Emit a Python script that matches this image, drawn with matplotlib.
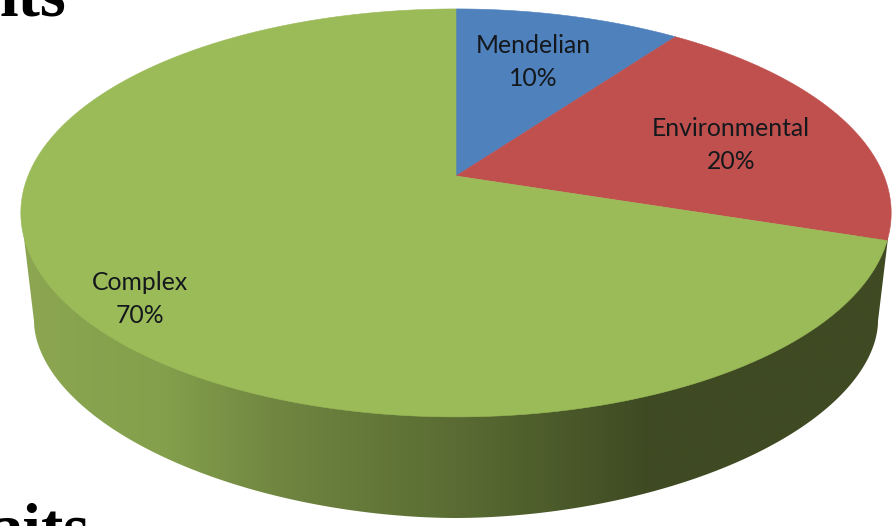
import numpy as np
import matplotlib
matplotlib.use("Agg")
import matplotlib.pyplot as plt
from matplotlib.patches import Polygon
from matplotlib.colors import LinearSegmentedColormap

# Data
labels = ["Mendelian", "Environmental", "Complex"]
values = [10, 20, 70]
colors = ["#4f81bd", "#c0504d", "#9bbb59"]
label_pos = [(533, 62), (731, 145), (140, 299)]

# Side shading, left to right
side_x = [0.0, 0.16, 0.3, 0.5, 0.66, 0.72, 1.0]
side_colors = ["#8ca651", "#84a04c", "#6f8540", "#5a6c33", "#465427", "#3f4a23", "#3f4a23"]

W, H = 895, 526
fig = plt.figure(figsize=(W / 100, H / 100), dpi=100)
ax = fig.add_axes([0, 0, 1, 1])
ax.set_xlim(0, W)
ax.set_ylim(H, 0)
ax.axis("off")

# Perspective mapping of a unit circle onto the tilted top face
cx, cy, a, b, k = 456, 176, 428, 197.3, 0.181


def top_face(theta):
    u, v = np.sin(theta), np.cos(theta)
    d = 1 + k * v
    return np.column_stack([cx + a * u / d, cy - b * v / d])


def lower_edge(x0, y0, rx, ry, t, p=1.88):
    # slightly squarer than an ellipse, the edge turns sharply at both ends
    c, s = np.cos(t), np.sin(t)
    return np.column_stack([x0 + rx * np.sign(c) * np.abs(c) ** (2 / p),
                            y0 + ry * np.abs(s) ** (2 / p)])


# Side wall: gradient clipped to the outline of lower edge and tangents
t = np.linspace(0, np.pi, 400)
lower = lower_edge(456, 321, 422, 197, t)
side_outline = np.vstack([[[888, 238]], lower, [[21, 213]], [[456, 213]]])
cmap = LinearSegmentedColormap.from_list("side", list(zip(side_x, side_colors)))
im = ax.imshow(np.linspace(0, 1, 512).reshape(1, -1), cmap=cmap, aspect="auto",
               extent=[21, 891, 530, 200], zorder=1)
ax.set_xlim(0, W)
ax.set_ylim(H, 0)
clip = Polygon(side_outline, closed=True, transform=ax.transData, fc="none", ec="none")
ax.add_patch(clip)
im.set_clip_path(clip)

# Slices from the values, clockwise from twelve o'clock
start = 0.0
for val, col in zip(values, colors):
    stop = start + val / sum(values) * 2 * np.pi
    arc = top_face(np.linspace(start, stop, 200))
    ax.add_patch(Polygon(np.vstack([[[cx, cy]], arc]), closed=True, fc=col, ec=col, lw=0.4, zorder=2))
    start = stop

for lab, val, (x, y) in zip(labels, values, label_pos):
    ax.text(x, y, f"{lab}\n{val}%", ha="center", va="center", family="Lato", fontsize=17.8,
            color="#14181c", linespacing=1.5, zorder=3)

# Pieces of the slide text around the chart
ax.text(66, 16, "its", ha="right", va="baseline", family="Liberation Serif",
        fontweight="bold", fontsize=48, color="black", zorder=4)
ax.text(90, 549, "aits", ha="right", va="baseline", family="Liberation Serif",
        fontweight="bold", fontsize=48, color="black", zorder=4)

fig.savefig("out.png", dpi=100)
